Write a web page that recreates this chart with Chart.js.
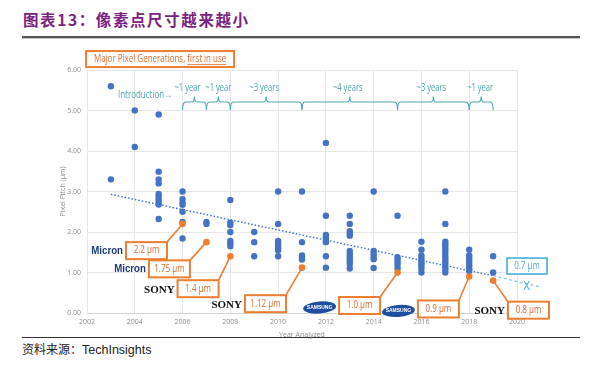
<!DOCTYPE html>
<html><head><meta charset="utf-8">
<script src="https://cdn.jsdelivr.net/npm/chart.js@4/dist/chart.umd.min.js"></script>
<style>
html,body{margin:0;padding:0;background:#fff;width:595px;height:378px;overflow:hidden;position:relative}
#title{position:absolute;left:23px;top:8px;font-family:"Noto Sans CJK SC",sans-serif;font-size:15.5px;font-weight:bold;color:#7B2380;letter-spacing:1.6px;line-height:22px}
#rule1{position:absolute;left:22px;top:36px;width:558px;height:2px;background:#555}
#rule1b{position:absolute;left:22px;top:38px;width:558px;height:1px;background:#c8c8c8}
#rule2{position:absolute;left:22px;top:337px;width:558px;height:1px;background:#333}
#src{position:absolute;left:22px;top:340px;font-family:"Noto Sans CJK SC",sans-serif;font-size:12px;color:#222;line-height:18px}
#src span{font-family:"Liberation Sans",Arial,sans-serif;font-size:12.5px}
canvas{position:absolute;left:0;top:0}
</style></head>
<body>
<div id="title">图表13：像素点尺寸越来越小</div>
<div id="rule1"></div><div id="rule1b"></div>
<div id="rule2"></div>
<div id="src">资料来源：<span>TechInsights</span></div>
<canvas id="c" width="595" height="378"></canvas>
<script>
// ---- data ----
const years = [2003,2004,2005,2006,2007,2008,2009,2010,2011,2012,2013,2014,2015,2016,2017,2018,2019];
const pitchByYear = [
  [5.6,3.3],
  [5.0,4.1],
  [4.9,3.49,3.30,3.20,2.94,2.87,2.81,2.74,2.68,2.32],
  [3.0,2.81,2.72,2.67,2.50,2.25,1.84],
  [2.25,2.2],
  [2.79,2.23,2.17,2.0,1.78,1.72,1.65],
  [2.0,1.75,1.4],
  [3.0,2.2,1.78,1.72,1.65,1.6,1.55,1.4],
  [3.0,1.75,1.42,1.36,1.32],
  [4.2,2.4,1.93,1.86,1.80,1.75,1.4,1.12],
  [2.4,2.2,2.02,1.96,1.91,1.53,1.46,1.40,1.34,1.28,1.21,1.10],
  [3.0,1.53,1.45,1.38,1.33,1.11],
  [2.4,1.38,1.32,1.26,1.19,1.10],
  [1.76,1.56,1.42,1.36,1.30,1.23,1.17,1.10,1.0],
  [3.0,2.2,1.76,1.70,1.63,1.56,1.49,1.41,1.34,1.27,1.21,1.13,1.06,1.0],
  [1.56,1.42,1.36,1.30,1.23,1.17,1.10,1.04],
  [1.4,1.0]
];
const firstUseYears = [2006,2007,2008,2011,2015,2018,2019];
const firstUsePitch = [2.2,1.75,1.4,1.12,1.0,0.9,0.8];
const firstUseLabels = ['2.2 µm','1.75 µm','1.4 µm','1.12 µm','1.0 µm','0.9 µm','0.8 µm'];
const vendors = ['Micron','Micron','SONY','SONY','SAMSUNG','SAMSUNG','SONY'];
const trendYears = [2003,2019];
const trendPitch = [2.93,0.92];
const projYears = [2019,2021];
const projPitch = [0.92,0.64];
const projLabel = '0.7 µm';
const braceStart = [2006,2007,2008,2011,2015,2018];
const braceEnd   = [2007,2008,2011,2015,2018,2019];
const braceLabels = ['~1 year','~1 year','~3 years','~4 years','~3 years','~1 year'];
const xTicks = [2002,2004,2006,2008,2010,2012,2014,2016,2018,2020];
const yTicks = [0,1,2,3,4,5,6];

const measured = [];
years.forEach((yr,i)=>pitchByYear[i].forEach(p=>measured.push({x:yr,y:p})));
const firstUse = firstUseYears.map((yr,i)=>({x:yr,y:firstUsePitch[i]}));
const trend = trendYears.map((yr,i)=>({x:yr,y:trendPitch[i]}));
const proj = projYears.map((yr,i)=>({x:yr,y:projPitch[i]}));

const BLUE='#4472C4', ORANGE='#ED7D31', TEAL='#4AA3AD', CYAN='#45AEDB';

// condensed text helper
function cText(ctx,str,x,y,sx,align){
  ctx.save(); ctx.translate(x,y); ctx.scale(sx,1);
  ctx.textAlign=align||'center'; ctx.fillText(str,0,0); ctx.restore();
}

const annot = {
  id:'annot',
  afterDraw(chart){
    const {ctx, chartArea:ca, scales:{x,y}} = chart;
    const X=v=>x.getPixelForValue(v), Y=v=>y.getPixelForValue(v);
    ctx.save();
    ctx.textBaseline='middle';
    // axis titles
    ctx.fillStyle='#8c8c8c'; ctx.font='7px "Open Sans"'; ctx.textAlign='center';
    ctx.fillText('Year Analyzed',(ca.left+ca.right)/2, ca.bottom+22);
    ctx.save(); ctx.translate(ca.left-24,(ca.top+ca.bottom)/2); ctx.rotate(-Math.PI/2);
    ctx.fillText('Pixel Pitch (µm)',0,0); ctx.restore();

    // header box
    const hx=X(2005.06), hy=Y(6.27), hw=148, hh=16;
    ctx.strokeStyle=ORANGE; ctx.lineWidth=2; ctx.fillStyle='#fff';
    ctx.fillRect(hx-hw/2,hy-hh/2,hw,hh); ctx.strokeRect(hx-hw/2,hy-hh/2,hw,hh);
    ctx.font='10px "Open Sans"'; ctx.fillStyle='#E06A2A';
    const sc=0.8;
    const t1='Major Pixel Generations, ', t2='first in use';
    const w1=ctx.measureText(t1).width*sc, w2=ctx.measureText(t2).width*sc;
    const sx=hx-(w1+w2)/2;
    cText(ctx,t1,sx,hy,sc,'left'); cText(ctx,t2,sx+w1,hy,sc,'left');
    ctx.lineWidth=0.8; ctx.strokeStyle='#E06A2A';
    ctx.beginPath(); ctx.moveTo(sx+w1,hy+5.5); ctx.lineTo(sx+w1+w2,hy+5.5); ctx.stroke();

    // braces
    ctx.strokeStyle=TEAL; ctx.lineWidth=1.1; ctx.fillStyle=TEAL;
    ctx.font='10px "Open Sans"';
    const yt=Y(5.21), yb=Y(5.01), yl=Y(5.56);
    const labelShift=[-7,0,-2,-2,-2,-1];
    braceStart.forEach((s,i)=>{
      const x1=X(s), x2=X(braceEnd[i]), xm=(x1+x2)/2;
      ctx.beginPath();
      ctx.moveTo(x1,yb); ctx.quadraticCurveTo(x1,yt,x1+3,yt);
      ctx.lineTo(xm-3,yt); ctx.quadraticCurveTo(xm,yt,xm,yt-5.5);
      ctx.quadraticCurveTo(xm,yt,xm+3,yt);
      ctx.lineTo(x2-3,yt); ctx.quadraticCurveTo(x2,yt,x2,yb);
      ctx.stroke();
      cText(ctx,braceLabels[i], xm+labelShift[i], yl, 0.76);
    });
    cText(ctx,'Introduction→', X(2004.43), Y(5.38), 0.8);

    // callouts
    const boxPos=[[2004.49,1.54],[2005.45,1.09],[2006.65,0.60],[2009.47,0.23],[2013.41,0.185],[2016.71,0.10],[2020.48,0.07]];
    const corner=['tr','tr','tr','tr','tr','tr','tl'];
    const bw=41, bh=17;
    firstUseYears.forEach((yr,i)=>{
      const cx=X(boxPos[i][0]), cy=Y(boxPos[i][1]);
      const l=cx-bw/2, t=cy-bh/2;
      const px=X(yr), py=Y(firstUsePitch[i]);
      ctx.strokeStyle=ORANGE; ctx.lineWidth=1.6;
      ctx.beginPath(); ctx.moveTo(corner[i]==='tr'?l+bw:l, t); ctx.lineTo(px,py); ctx.stroke();
      ctx.fillStyle='#fff'; ctx.fillRect(l,t,bw,bh);
      ctx.lineWidth=2; ctx.strokeRect(l,t,bw,bh);
      ctx.fillStyle='#E06A2A'; ctx.font='10px "Open Sans"';
      cText(ctx,firstUseLabels[i],cx,cy,0.8);
      // vendor mark
      const rx=l-3;
      const v=vendors[i];
      if(v==='Micron'){
        ctx.font='bold 11px "Liberation Sans"'; ctx.fillStyle='#1F3A7A';
        cText(ctx,'Micron',rx,cy+0.5,0.88,'right');
      } else if(v==='SONY'){
        ctx.font='bold 11px "Liberation Serif"'; ctx.fillStyle='#111';
        cText(ctx,'SONY',rx,cy+1,1.0,'right');
      } else {
        const ex=rx-16.5, ey=cy+2;
        ctx.fillStyle='#1C4FA0';
        ctx.beginPath(); ctx.ellipse(ex,ey,16.5,6,-0.08,0,Math.PI*2); ctx.fill();
        ctx.fillStyle='#fff'; ctx.font='bold 5px "Liberation Sans"'; ctx.textAlign='center';
        ctx.fillText('SAMSUNG',ex,ey);
      }
    });
    // projected box
    const qx=X(2020.42), qy=Y(1.16);
    ctx.strokeStyle=CYAN; ctx.lineWidth=1.6; ctx.fillStyle='#fff';
    ctx.fillRect(qx-20,qy-8,40,16); ctx.strokeRect(qx-20,qy-8,40,16);
    ctx.fillStyle=CYAN; ctx.font='10px "Open Sans"';
    cText(ctx,projLabel,qx,qy,0.8);
    ctx.font='13px "Open Sans"'; cText(ctx,'X',X(2020.4),Y(0.67),0.9);
    ctx.restore();
  }
};

new Chart(document.getElementById('c'),{
  type:'scatter',
  data:{datasets:[
    {type:'line',data:trend,borderColor:BLUE,borderWidth:1.5,borderDash:[1.5,2],pointRadius:0,order:3,fill:false},
    {type:'line',data:proj,borderColor:'#8CC8E0',borderWidth:1.3,borderDash:[3,2.5],pointRadius:0,order:3,fill:false,clip:false},
    {data:measured,backgroundColor:BLUE,borderWidth:0,pointRadius:3.2,order:1},
    {data:firstUse,backgroundColor:ORANGE,borderWidth:0,pointRadius:3.3,order:0}
  ]},
  options:{
    responsive:false,animation:false,devicePixelRatio:1,
    layout:{padding:{left:47,right:78,top:70,bottom:45}},
    plugins:{legend:{display:false},tooltip:{enabled:false}},
    scales:{
      x:{type:'linear',min:2002,max:2020,
        afterBuildTicks:s=>{s.ticks=xTicks.map(v=>({value:v}));},
        afterFit:s=>{s.height=20;},
        ticks:{callback:v=>String(v),font:{size:7,family:'"Open Sans"'},color:'#8c8c8c',padding:5,maxRotation:0},
        grid:{color:'#e6e6e6',drawTicks:false},border:{color:'#d4d4d4'}},
      y:{type:'linear',min:0,max:6,
        afterBuildTicks:s=>{s.ticks=yTicks.map(v=>({value:v}));},
        afterFit:s=>{s.width=40;},
        ticks:{callback:v=>v.toFixed(2),font:{size:7,family:'"Open Sans"'},color:'#8c8c8c',padding:6},
        grid:{color:'#e6e6e6',drawTicks:false},border:{color:'#e6e6e6'}}
    }
  },
  plugins:[annot]
});
</script>
</body></html>
